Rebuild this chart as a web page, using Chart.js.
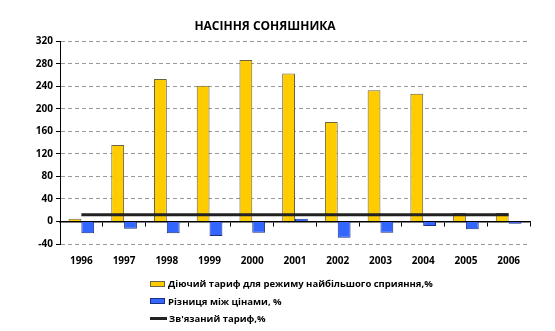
<!DOCTYPE html>
<html>
<head>
<meta charset="utf-8">
<script src="https://cdn.jsdelivr.net/npm/chart.js@4.4.1/dist/chart.umd.min.js"></script>
<style>
  html, body { margin: 0; padding: 0; background: #fff; }
  #wrap { position: relative; width: 555px; height: 331px; }
  #legend { position: absolute; left: 150px; top: 275px; font: bold 9.5px "Open Sans", sans-serif; color: #000; }
  #legend .row { display: flex; align-items: center; height: 17.5px; white-space: nowrap; }
  #legend .box { width: 15px; height: 6px; margin-right: 3px; box-sizing: border-box; }
  #legend .line { width: 17px; height: 3px; margin-right: 2px; }
</style>
</head>
<body>
<div id="wrap">
  <canvas id="sunflower" width="555" height="331"></canvas>
  <div id="legend"></div>
</div>
<script>
const years = ['1996', '1997', '1998', '1999', '2000', '2001', '2002', '2003', '2004', '2005', '2006'];
const appliedTariff = [5, 136, 253, 241, 287, 263, 177, 233, 227, 15, 15];
const priceGap = [-21, -13, -21, -26, -20, 5, -29, -20, -8, -14, -4];
const boundTariff = [12, 12, 12, 12, 12, 12, 12, 12, 12, 12, 12];
const yTicks = [-40, 0, 40, 80, 120, 160, 200, 240, 280, 320];

const labelFont = { family: 'Open Sans', size: 10, weight: 'bold' };

let ctx = document.getElementById('sunflower').getContext('2d');

let chart = new Chart(ctx, {
    type: 'bar',
    data: {
        labels: years,
        datasets: [{
            type: 'line',
            label: "Зв'язаний тариф,%",
            data: boundTariff,
            borderColor: '#222',
            backgroundColor: '#222',
            borderWidth: 3,
            pointRadius: 0,
            order: 0
        }, {
            label: 'Діючий тариф для режиму найбільшого сприяння,%',
            data: appliedTariff,
            backgroundColor: '#FFCC00',
            borderColor: '#6b6440',
            borderWidth: 1,
            categoryPercentage: 0.6,
            barPercentage: 1,
            order: 1
        }, {
            label: 'Різниця між цінами, %',
            data: priceGap,
            backgroundColor: '#3366FF',
            borderColor: '#1c2f80',
            borderWidth: 1,
            categoryPercentage: 0.6,
            barPercentage: 1,
            order: 1
        }]
    },
    options: {
        responsive: false,
        animation: false,
        layout: { padding: { left: 0, right: 25, bottom: 61 } },
        plugins: {
            legend: { display: false },
            tooltip: { enabled: false },
            title: {
                display: true,
                text: 'НАСІННЯ СОНЯШНИКА',
                color: '#000',
                font: { family: 'Open Sans', size: 12, weight: 'bold', lineHeight: 1.2 },
                padding: { top: 19, bottom: 8 }
            }
        },
        scales: {
            x: {
                grid: { display: false },
                border: { display: false },
                ticks: { color: '#000', font: labelFont, padding: 3 },
                afterFit: (scale) => { scale.height = 26; }
            },
            x2: {
                type: 'category',
                labels: years,
                position: { y: 0 },
                offset: true,
                grid: { offset: true, drawOnChartArea: false, tickLength: 4, tickColor: '#000', tickWidth: 1 },
                border: { color: '#000', width: 1.5 },
                ticks: { display: false }
            },
            y: {
                min: -40,
                max: 320,
                afterBuildTicks: (scale) => { scale.ticks = yTicks.map(v => ({ value: v })); },
                grid: {
                    color: (c) => c.tick && c.tick.value === 0 ? 'rgba(0,0,0,0)' : '#9a9a9a',
                    tickColor: '#000',
                    tickLength: 4,
                    tickBorderDash: []
                },
                border: { color: '#000', width: 1, dash: [4, 3] },
                ticks: { color: '#000', font: labelFont, padding: 3 },
                afterFit: (scale) => { scale.width = 60; }
            }
        }
    }
});

// legend rows in the order shown under the chart
let legendOrder = [1, 2, 0];
let legendEl = document.getElementById('legend');
legendOrder.forEach((i) => {
    let ds = chart.data.datasets[i];
    let row = document.createElement('div');
    row.className = 'row';
    let mark = document.createElement('span');
    if (ds.type === 'line') {
        mark.className = 'line';
        mark.style.background = ds.borderColor;
    } else {
        mark.className = 'box';
        mark.style.background = ds.backgroundColor;
        mark.style.border = '1px solid ' + ds.borderColor;
    }
    row.appendChild(mark);
    row.appendChild(document.createTextNode(ds.label));
    legendEl.appendChild(row);
});
</script>
</body>
</html>
